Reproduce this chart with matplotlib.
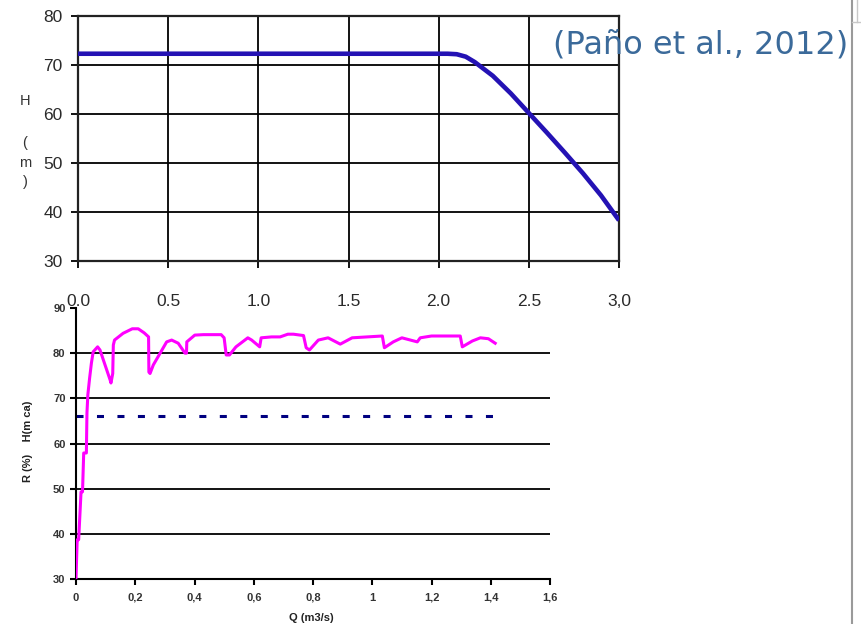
import matplotlib
matplotlib.use("Agg")
import matplotlib.pyplot as plt
from matplotlib.lines import Line2D

# top chart: pump head curve H(Q)
q_top = [0.0, 2.05, 2.1, 2.15, 2.2, 2.3, 2.4, 2.5, 2.6, 2.7, 2.8, 2.9, 3.0]
h_top = [72.3, 72.3, 72.2, 71.7, 70.6, 67.8, 64.2, 60.2, 56.2, 52.1, 47.9, 43.4, 38.3]
top_xticks = [0.0, 0.5, 1.0, 1.5, 2.0, 2.5, 3.0]
top_xlabels = ["0.0", "0.5", "1.0", "1.5", "2.0", "2.5", "3,0"]
top_yticks = [30, 40, 50, 60, 70, 80]

# bottom chart: efficiency R(%) and head H(m ca)
q_eff = [0.0, 0.004, 0.009, 0.017, 0.022, 0.026, 0.035, 0.037, 0.04, 0.046, 0.052,
         0.058, 0.073, 0.081, 0.098, 0.115, 0.118, 0.124, 0.126, 0.13, 0.159, 0.19,
         0.21, 0.23, 0.245, 0.246, 0.25, 0.261, 0.284, 0.306, 0.323, 0.345, 0.368,
         0.373, 0.374, 0.401, 0.43, 0.49, 0.5, 0.507, 0.518, 0.54, 0.58, 0.593,
         0.62, 0.625, 0.66, 0.689, 0.715, 0.734, 0.768, 0.777, 0.788, 0.818, 0.851,
         0.892, 0.932, 1.034, 1.041, 1.071, 1.1, 1.152, 1.162, 1.2, 1.297, 1.304,
         1.338, 1.365, 1.392, 1.415]
r_eff = [30.2, 38.7, 38.7, 49.3, 49.3, 57.9, 57.9, 66.8, 70.8, 74.5, 77.8,
         80.3, 81.4, 80.7, 77.4, 74.1, 73.4, 75.5, 81.8, 82.9, 84.4, 85.4,
         85.4, 84.5, 83.6, 75.8, 75.5, 77.4, 80.0, 82.5, 82.9, 82.2, 80.0,
         80.0, 82.5, 84.0, 84.1, 84.1, 83.4, 79.6, 79.6, 81.4, 83.4, 82.9,
         81.4, 83.4, 83.6, 83.6, 84.2, 84.2, 83.9, 81.2, 80.7, 82.9, 83.4,
         82.0, 83.4, 83.8, 81.2, 82.5, 83.4, 82.5, 83.4, 83.8, 83.8, 81.4,
         82.7, 83.4, 83.2, 82.2]
q_head = [0.0, 1.41]
h_head = [66.1, 66.1]
bot_xticks = [0, 0.2, 0.4, 0.6, 0.8, 1.0, 1.2, 1.4, 1.6]
bot_xlabels = ["0", "0,2", "0,4", "0,6", "0,8", "1", "1,2", "1,4", "1,6"]
bot_yticks = [30, 40, 50, 60, 70, 80, 90]
bot_grid = [40, 50, 60, 70, 80]

W, H = 861, 624
fig = plt.figure(figsize=(W / 100, H / 100), dpi=100)

arial = ["Liberation Sans", "DejaVu Sans"]

# ---- top axes
ax1 = fig.add_axes([78 / W, 1 - 261 / H, (619 - 78) / W, (261 - 16) / H])
ax1.plot(q_top, h_top, color="#2412b4", lw=3.3, solid_capstyle="butt", zorder=3)
ax1.set_xlim(0, 3)
ax1.set_ylim(30, 80)
ax1.set_xticks(top_xticks)
ax1.set_xticklabels(top_xlabels)
ax1.set_yticks(top_yticks)
ax1.grid(True, color="black", lw=1.3)
for s in ax1.spines.values():
    s.set_color("#222222")
    s.set_linewidth(1.6)
ax1.tick_params(axis="both", direction="out", length=5, width=1.3, color="black",
                labelcolor="#2a2a2a", labelsize=12.5)
ax1.tick_params(axis="x", pad=19)
ax1.tick_params(axis="y", pad=6)
for lab in ax1.get_xticklabels() + ax1.get_yticklabels():
    lab.set_family(arial)

# stacked y label "H ( m )"
for txt, ypx in [("H", 101), ("(", 143), ("m", 163), (")", 182)]:
    fig.text(25 / W, 1 - ypx / H, txt, ha="center", va="center", fontsize=10.5,
             color="#333333", family=arial)

# ---- bottom axes
ax2 = fig.add_axes([76 / W, 1 - 579 / H, (550 - 76) / W, (579 - 308) / H])
for v in bot_grid:
    ax2.axhline(v, color="black", lw=1.3, zorder=1)
ax2.plot(q_head, h_head, color="#000080", lw=2.2, dashes=(2.3, 4.4), zorder=2)
ax2.plot(q_eff, r_eff, color="#ff00ff", lw=2.2, zorder=3)
ax2.set_xlim(0, 1.6)
ax2.set_ylim(30, 90)
ax2.set_xticks(bot_xticks)
ax2.set_xticklabels(bot_xlabels)
ax2.set_yticks(bot_yticks)
for side in ["top", "right"]:
    ax2.spines[side].set_visible(False)
for side in ["left", "bottom"]:
    ax2.spines[side].set_color("black")
    ax2.spines[side].set_linewidth(1.5)
ax2.tick_params(axis="both", direction="out", length=4, width=1.5, color="black",
                labelcolor="#333333", labelsize=8)
ax2.tick_params(axis="x", pad=6)
for lab in ax2.get_xticklabels() + ax2.get_yticklabels():
    lab.set_family(arial)
    lab.set_fontweight("bold")

fig.text(311 / W, 1 - 618 / H, "Q (m3/s)", ha="center", va="center",
         fontsize=8, fontweight="bold", color="#222222", family=arial)
fig.text(28 / W, 1 - 441 / H, "R (%)    H(m ca)", ha="center", va="center",
         rotation=90, fontsize=8, fontweight="bold", color="#222222", family=arial)

# citation
fig.text(553 / W, 1 - 45 / H, "(Paño et al., 2012)", ha="left", va="center",
         fontsize=23, color="#3b6a9a", family="DejaVu Sans")

# window scrollbar edge at the right
fig.add_artist(Line2D([852 / W, 852 / W], [0, 1], color="#9a9a9a", lw=1.5))
fig.add_artist(Line2D([857 / W, 857 / W], [1 - 22 / H, 1], color="#c8c8c8", lw=1))
fig.add_artist(Line2D([852 / W, 1], [1 - 22 / H, 1 - 22 / H], color="#c8c8c8", lw=1))

fig.savefig("out.png", dpi=100)
